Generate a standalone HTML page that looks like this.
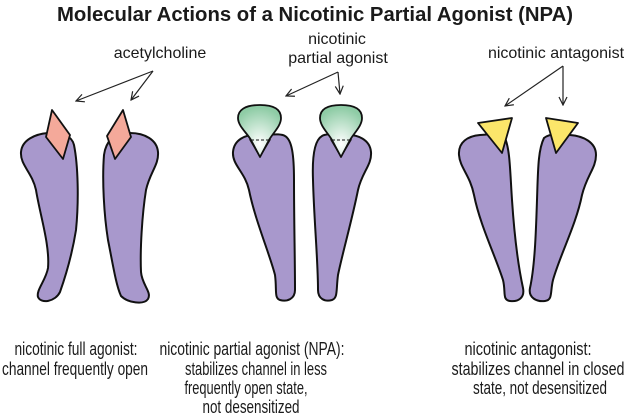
<!DOCTYPE html>
<html><head><meta charset="utf-8"><style>
html,body{margin:0;padding:0;background:#fff;}
svg{display:block;}
text{font-family:"Liberation Sans",Arial,sans-serif;fill:#1a1a1a;}
</style></head><body>
<svg width="629" height="416" viewBox="0 0 629 416" xmlns="http://www.w3.org/2000/svg">
<defs>
<radialGradient id="g" cx="0.5" cy="0.75" r="0.7">
<stop offset="0" stop-color="#ffffff"/><stop offset="1" stop-color="#8fcca6"/>
</radialGradient>
<marker id="a" markerWidth="10" markerHeight="10" refX="9" refY="5" orient="auto" markerUnits="userSpaceOnUse">
<path d="M1,1 L9,5 L1,9" fill="none" stroke="#222" stroke-width="1.2"/>
</marker>
</defs>
<text x="315" y="21" font-size="20" font-weight="bold" text-anchor="middle" textLength="516" lengthAdjust="spacingAndGlyphs">Molecular Actions of a Nicotinic Partial Agonist (NPA)</text>

<g stroke="#111" stroke-width="2" stroke-linejoin="round" fill="#a898cc">
<path d="M48,133 C35,134 22,140 21,152 C20,165 32,172 36,190 C40,215 50,245 48,268 C46,280 36,290 38,297 C41,304 55,302 60,292 C66,275 72,255 76,230 C79,200 78,165 74,145 C72,136 62,132 48,133 Z"/>
<path d="M130,133 C145,133 157,140 158,152 C159,165 150,172 146,190 C142,215 140,250 141,272 C142,285 152,292 148,299 C144,305 128,303 121,296 C116,285 113,265 108,240 C104,215 102,180 104,155 C106,140 115,133 130,133 Z"/>
<path d="M258,135 C245,134 234,140 233,152 C232,165 245,172 249,190 C255,220 270,255 275,275 C277,290 274,298 280,300 C287,302 295,299 295,290 C295,260 294,220 294,180 C294,155 292,140 285,136 C280,133 270,135 258,135 Z"/>
<path d="M345,135 C358,134 370,140 371,152 C372,165 362,172 358,190 C352,220 342,255 338,275 C336,290 338,298 332,300 C325,302 318,299 318,290 C318,260 314,220 313,180 C312,155 315,140 322,136 C327,133 335,135 345,135 Z"/>
<path d="M480,135 C468,136 458,142 459,155 C460,168 470,175 474,195 C480,225 495,255 503,280 C506,292 502,300 510,301 C518,302 525,298 523,288 C518,265 514,230 512,200 C510,170 510,150 505,138 C500,133 490,134 480,135 Z"/>
<path d="M570,135 C583,136 596,142 596,155 C596,168 587,175 582,195 C576,225 560,255 553,280 C550,292 553,300 545,301 C537,302 528,298 530,288 C535,265 536,230 537,200 C538,170 538,150 544,138 C550,133 560,134 570,135 Z"/>
</g>

<g stroke="#111" stroke-width="1.8" stroke-linejoin="round" fill="#f4a99a">
<path d="M52,110 L70,135 L63,159 L46,137 Z"/>
<path d="M123,110 L107,136 L115,159 L131,137 Z"/>
</g>
<g fill="#fff" stroke="#111" stroke-width="1.2">
<path d="M250,140 L260,157 L270,140 Z"/>
<path d="M331,140 L341,157 L351,140 Z"/>
</g>
<g stroke="#111" stroke-width="1.8" fill="url(#g)" stroke-linejoin="round">
<path d="M260,105 C245,105 238,110 238,118 C238,126 247,133 251,140 L260,157 L269,140 C273,133 281,126 281,118 C281,110 275,105 260,105 Z"/>
<path d="M341,105 C326,105 320,110 320,118 C320,126 328,133 332,140 L341,157 L350,140 C354,133 362,126 362,118 C362,110 356,105 341,105 Z"/>
</g>
<g stroke="#111" stroke-width="1" stroke-dasharray="3,2">
<line x1="251" y1="140" x2="269" y2="140"/><line x1="332" y1="140" x2="350" y2="140"/>
</g>
<g stroke="#111" stroke-width="1.8" stroke-linejoin="round" fill="#fbe66a">
<path d="M478,123 L512,118 L502,153 Z"/>
<path d="M546,118 L578,123 L556,153 Z"/>
</g>

<g stroke="#222" stroke-width="1.2" fill="none" marker-end="url(#a)">
<line x1="153" y1="71" x2="76" y2="101"/>
<line x1="153" y1="71" x2="131" y2="100"/>
<line x1="338" y1="72" x2="286" y2="96"/>
<line x1="338" y1="72" x2="340" y2="94"/>
<line x1="563" y1="66" x2="505" y2="106"/>
<line x1="563" y1="66" x2="563" y2="105"/>
</g>

<g font-size="16" text-anchor="middle">
<text x="160" y="58">acetylcholine</text>
<text x="337" y="44">nicotinic</text>
<text x="338" y="63">partial agonist</text>
<text x="556" y="58">nicotinic antagonist</text>
</g>
<g font-size="18" text-anchor="middle">
<text x="76" y="355" textLength="123" lengthAdjust="spacingAndGlyphs">nicotinic full agonist:</text>
<text x="75" y="375" textLength="146" lengthAdjust="spacingAndGlyphs">channel frequently open</text>

<text x="252" y="355" textLength="185" lengthAdjust="spacingAndGlyphs">nicotinic partial agonist (NPA):</text>
<text x="256" y="375" textLength="142" lengthAdjust="spacingAndGlyphs">stabilizes channel in less</text>
<text x="246" y="394" textLength="123" lengthAdjust="spacingAndGlyphs">frequently open state,</text>
<text x="251" y="413" textLength="97" lengthAdjust="spacingAndGlyphs">not desensitized</text>

<text x="528" y="355" textLength="127" lengthAdjust="spacingAndGlyphs">nicotinic antagonist:</text>
<text x="538" y="375" textLength="173" lengthAdjust="spacingAndGlyphs">stabilizes channel in closed</text>
<text x="540" y="394" textLength="134" lengthAdjust="spacingAndGlyphs">state, not desensitized</text>
</g>
</svg>
</body></html>
